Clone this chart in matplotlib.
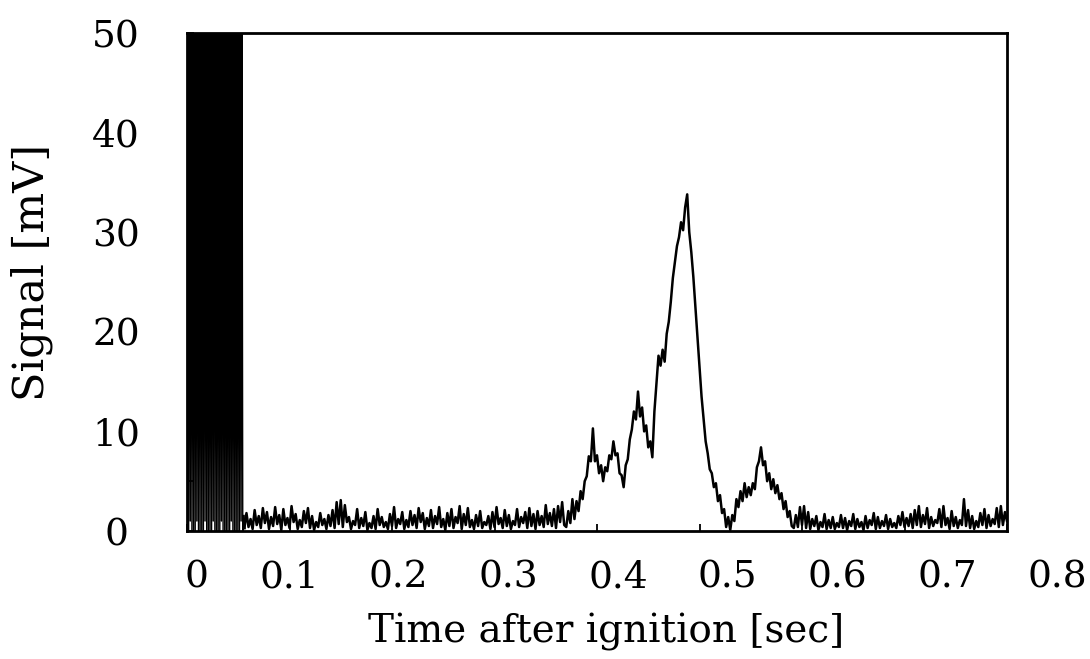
import numpy as np
import matplotlib
matplotlib.use('Agg')
import matplotlib.pyplot as plt

plt.rcParams['font.family'] = 'DejaVu Serif'

# ignition burst, 0 - 0.056 s (signal saturates above the axis)
burst_start = 0.0
burst_step = 0.0008
burst_mv = [0, 62, 0, 58, 1, 61, 0, 60, 0, 63, 0, 59, 1, 62, 0, 57, 0, 61, 0, 60,
            0, 64, 1, 58, 0, 62, 0, 60, 0, 59, 0, 61, 1, 63, 0, 58, 0, 60, 0, 62,
            0, 59, 1, 61, 0, 60, 0, 63, 0, 57, 0, 62, 0, 60, 1, 58, 0, 61, 0, 60,
            0, 59, 0, 62, 0, 60, 1, 58, 0, 1.5]

# baseline noise before the flame signal, 0.056 - 0.368 s
base1_start = 0.056
base1_step = 0.002
base1_mv = [0.3, 1.8, 0.4, 1.2, 0.2, 2.1, 0.6, 1.5, 0.3, 2.3, 0.8, 1.9, 0.2, 1.4, 0.5, 2.4, 0.7, 1.6, 0.1, 2.2,
            0.6, 1.3, 0.3, 2.5, 0.9, 1.7, 0.2, 1.1, 0.4, 2.0, 0.8, 2.3, 0.3, 1.5, 0.1, 0.9, 0.4, 1.8, 0.6, 1.2,
            0.2, 1.6, 0.5, 2.1, 0.3, 2.9, 0.7, 3.1, 0.4, 2.6, 0.9, 1.4, 0.2, 1.0, 0.6, 2.2, 0.3, 1.3, 0.5, 1.9,
            0.1, 0.8, 0.3, 1.5, 0.2, 2.2, 0.6, 1.4, 0.4, 0.9, 0.2, 1.7, 0.5, 2.4, 0.3, 1.2, 0.7, 1.9, 0.2, 1.1,
            0.4, 2.0, 0.6, 1.6, 0.3, 2.3, 0.9, 1.8, 0.2, 1.3, 0.5, 2.1, 0.3, 1.5, 0.7, 2.4, 0.4, 1.2, 0.1, 1.8,
            0.5, 2.2, 0.3, 1.4, 0.8, 2.5, 0.2, 1.7, 0.6, 2.3, 0.4, 1.1, 0.2, 1.6, 0.5, 2.0, 0.3, 0.9, 0.6, 1.5,
            0.2, 1.9, 0.4, 2.4, 0.7, 1.3, 0.3, 2.1, 0.5, 1.6, 0.2, 1.0, 0.6, 2.2, 0.4, 1.4, 0.8, 1.9, 0.3, 2.3,
            0.5, 1.7, 0.2, 2.0, 0.6, 1.5, 0.4, 2.6, 0.7, 1.8, 0.5, 2.2, 0.3, 2.5, 0.9, 2.9, 0.6]

# flame signal, 0.370 - 0.590 s
peak_start = 0.370
peak_step = 0.002
peak_mv = [0.4, 2.0, 0.8, 3.2, 1.2, 3.0, 2.0, 4.0, 3.2, 5.0,
           5.5, 7.5, 7.0, 10.3, 7.0, 7.6, 5.8, 6.6, 5.0, 6.4,
           6.0, 7.6, 7.2, 9.0, 7.6, 7.8, 5.8, 5.6, 4.4, 6.6,
           7.2, 9.2, 10.2, 12.0, 11.2, 14.0, 11.5, 12.4, 10.0, 10.6,
           8.4, 9.0, 7.4, 12.0, 14.8, 17.6, 16.6, 18.2, 17.0, 19.8,
           21.0, 23.0, 25.4, 27.0, 28.6, 29.5, 31.0, 30.2, 32.5, 33.8,
           30.0, 28.0, 25.5, 22.5, 19.5, 16.5, 13.5, 11.2, 9.0, 7.8,
           6.2, 5.8, 4.4, 4.8, 3.0, 3.6, 1.8, 2.2, 0.4, 1.4,
           0.1, 1.6, 1.0, 3.2, 2.4, 4.0, 3.0, 4.8, 3.4, 4.4,
           3.6, 4.8, 4.2, 6.4, 7.0, 8.4, 6.6, 7.0, 5.0, 5.8,
           4.2, 5.2, 3.8, 4.6, 3.2, 3.8, 2.2, 3.0, 1.4, 2.0, 0.5]

# baseline noise after the flame signal, 0.592 - 0.800 s
base2_start = 0.592
base2_step = 0.002
base2_mv = [0.3, 1.6, 0.4, 2.4, 0.6, 2.5, 0.3, 1.9, 0.2, 1.2, 0.5, 1.5, 0.1, 0.9, 0.4, 1.7, 0.2, 1.1, 0.3, 1.4,
            0.2, 0.8, 0.4, 1.6, 0.3, 1.3, 0.1, 1.0, 0.5, 1.7, 0.2, 1.2, 0.4, 0.9, 0.1, 1.5, 0.3, 1.1, 0.6, 1.8,
            0.2, 1.4, 0.3, 1.0, 0.5, 1.6, 0.2, 1.2, 0.4, 0.8, 0.3, 1.5, 0.6, 1.9, 0.4, 1.3, 0.5, 1.7, 0.3, 2.1,
            0.6, 2.5, 0.4, 1.6, 0.7, 2.3, 0.3, 1.4, 0.5, 1.1, 0.8, 2.2, 0.4, 2.5, 0.6, 1.3, 0.2, 2.0, 0.5, 1.4,
            0.3, 1.1, 0.6, 3.2, 0.5, 2.1, 0.3, 1.5, 0.2, 1.0, 0.4, 1.8, 0.6, 2.2, 0.3, 1.6, 0.5, 1.2, 0.7, 2.3,
            0.4, 2.5, 0.6, 1.9, 1.0]

x_ticklabels = ['0', '0.1', '0.2', '0.3', '0.4', '0.5', '0.6', '0.7', '0.8']
y_ticks = [0, 10, 20, 30, 40, 50]

segments = [(base1_start, base1_step, base1_mv), (peak_start, peak_step, peak_mv),
            (base2_start, base2_step, base2_mv)]
t = np.concatenate([s + dt * np.arange(len(v)) for s, dt, v in segments])
sig = np.concatenate([np.asarray(v, dtype=float) for s, dt, v in segments])
t_burst = burst_start + burst_step * np.arange(len(burst_mv))

fig = plt.figure(figsize=(10.9, 6.59), dpi=100)
ax = fig.add_axes([187 / 1090, 1 - 531 / 659, 820 / 1090, 498 / 659])

ax.plot(t_burst, burst_mv, color='black', lw=1.0)
ax.plot([t_burst[-1], t[0]], [burst_mv[-1], sig[0]], color='black', lw=1.8)
ax.plot(t, sig, color='black', lw=1.8)

ax.set_xlim(0, 0.8)
ax.set_ylim(0, 50)
ax.set_xticks(np.arange(0, 0.81, 0.1))
ax.set_xticklabels([])
ax.set_yticks(y_ticks)
ax.set_yticks(np.arange(5, 50, 10), minor=True)
ax.tick_params(axis='both', which='both', direction='in', length=5, width=1.3)
ax.tick_params(axis='y', labelsize=27, pad=51)
for lbl in ax.get_yticklabels():
    lbl.set_ha('center')
for sp in ax.spines.values():
    sp.set_linewidth(2.0)

# x tick labels sit a little off the tick marks in the original
for k, lab in enumerate(x_ticklabels):
    px = 196 if k == 0 else 179.3 + 109.7 * k
    ax.text((px - 187) / 820, -46 / 498, lab, transform=ax.transAxes,
            ha='center', va='center', fontsize=27)

ax.set_xlabel('Time after ignition [sec]', fontsize=28, va='center')
ax.xaxis.set_label_coords((606 - 187) / 820, (531 - 632) / 498)
ax.set_ylabel('Signal [mV]', fontsize=31, va='center', ha='center')
ax.yaxis.set_label_coords((32 - 187) / 820, (531 - 272) / 498)

plt.savefig('out.png', dpi=100)
